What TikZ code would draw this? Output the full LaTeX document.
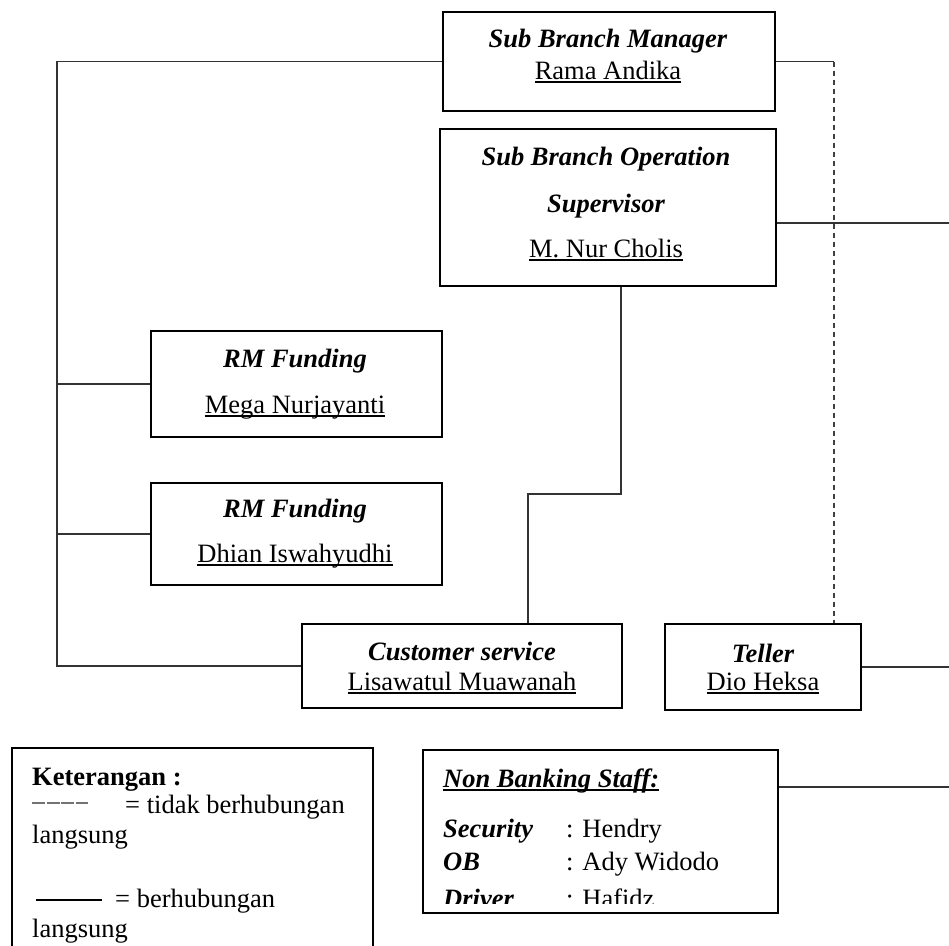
\documentclass[tikz,border=0pt]{standalone}
\usepackage{fontspec}
\setmainfont{Liberation Serif}
\newcommand\fsz{\fontsize{26.5}{30}\selectfont}
\newcommand\myul[1]{\leavevmode\setbox0\hbox{#1}\rlap{\rule[-3.5pt]{\wd0}{1.4pt}}\box0}
\begin{document}
\begin{tikzpicture}[x=1pt,y=-1pt,
  box/.style={draw=black, line width=2pt, inner sep=0pt, fill=none},
  conn/.style={draw=black!80, line width=1.2pt},
  dconn/.style={draw=black!75, line width=1.2pt, dash pattern=on 5pt off 4pt},
  txt/.style={anchor=base, inner sep=0pt, font=\fsz},
  ttl/.style={anchor=base, inner sep=0pt, font=\fsz\bfseries\itshape},
  ltxt/.style={anchor=base west, inner sep=0pt, font=\fsz},
  lttl/.style={anchor=base west, inner sep=0pt, font=\fsz\bfseries\itshape}]
\useasboundingbox (0,0) rectangle (949,945);
\fill[white] (0,0) rectangle (949,945);

% boxes
\node[box, minimum width=332pt, minimum height=99pt] (sbm) at (609,61.5) {};
\node[box, minimum width=336pt, minimum height=157pt] (sbos) at (608,207.5) {};
\node[box, minimum width=291pt, minimum height=106pt] (rm1) at (296.5,384) {};
\node[box, minimum width=291pt, minimum height=102pt] (rm2) at (296.5,534) {};
\node[box, minimum width=320pt, minimum height=84pt] (cs) at (462,666) {};
\node[box, minimum width=196pt, minimum height=86pt] (tel) at (763,667) {};
\node[box, minimum width=355pt, minimum height=163pt] (nbs) at (600.5,831.5) {};
\node[box, minimum width=361pt, minimum height=212pt] (leg) at (192.5,854) {};

% texts
\node[ttl] (sbmT) at (608,47) {Sub Branch Manager};
\node[txt] (sbmN) at (608,79) {\myul{Rama Andika}};
\node[ttl] (sbosT1) at (606,165) {Sub Branch Operation};
\node[ttl] (sbosT2) at (606,212) {Supervisor};
\node[txt] (sbosN) at (606,257) {\myul{M. Nur Cholis}};
\node[ttl] (rm1T) at (295,367) {RM Funding};
\node[txt] (rm1N) at (295,413) {\myul{Mega Nurjayanti}};
\node[ttl] (rm2T) at (295,517) {RM Funding};
\node[txt] (rm2N) at (295,562) {\myul{Dhian Iswahyudhi}};
\node[ttl] (csT) at (462,660) {Customer service};
\node[txt] (csN) at (462,690) {\myul{Lisawatul Muawanah}};
\node[ttl] (telT) at (763,662) {Teller};
\node[txt] (telN) at (763,690) {\myul{Dio Heksa}};

% legend
\node[anchor=base west, inner sep=0pt, font=\fsz\bfseries] (legT) at (32,785) {Keterangan :};
\draw[draw=black!55, line width=1.1pt, dash pattern=on 13pt off 1.5pt] (32,803) -- (88,803);
\node[ltxt] (leg1) at (125,813) {= tidak berhubungan};
\node[ltxt] (leg2) at (32,843) {langsung};
\draw[black, line width=2pt] (36,900) -- (102,900);
\node[ltxt] (leg3) at (115,907) {= berhubungan};
\node[ltxt] (leg4) at (32,937) {langsung};

% non banking staff
\begin{scope}
\clip (424,751) rectangle (777,903);
\node[lttl] (nbsT) at (443,787) {\myul{Non Banking Staff:}};
\node[lttl] (sec) at (443,837) {Security};
\node[ltxt] (secN) at (566,837) {: Hendry};
\node[lttl] (ob) at (443,870) {OB};
\node[ltxt] (obN) at (566,870) {: Ady Widodo};
\node[lttl] (drv) at (443,907) {Driver};
\node[ltxt] (drvN) at (566,907) {: Hafidz};
\end{scope}

% connectors
\coordinate (lt) at (57,61.5);
\coordinate (lb) at (57,666);
\draw[conn] (sbm.west) -- (lt) -- (lb) -- (cs.west);
\draw[conn] (rm1.west -| lt) -- (rm1.west);
\draw[conn] (rm2.west -| lt) -- (rm2.west);
\coordinate (dk) at (834,61.5);
\draw[conn] (sbm.east) -- (dk);
\draw[dconn] (dk) -- (dk |- tel.north);
\coordinate (sbosR) at (sbos.east |- 0,223);
\coordinate (e1) at (949,223);
\draw[conn] (sbosR) -- (e1);
\coordinate (b1) at (621,494);
\coordinate (b2) at (528,494);
\draw[conn] (b1 |- sbos.south) -- (b1) -- (b2) -- (b2 |- cs.north);
\coordinate (e2) at (949,667);
\draw[conn] (tel.east) -- (e2);
\coordinate (nbsR) at (nbs.east |- 0,787);
\coordinate (e3) at (949,787);
\draw[conn] (nbsR) -- (e3);
\end{tikzpicture}
\end{document}
